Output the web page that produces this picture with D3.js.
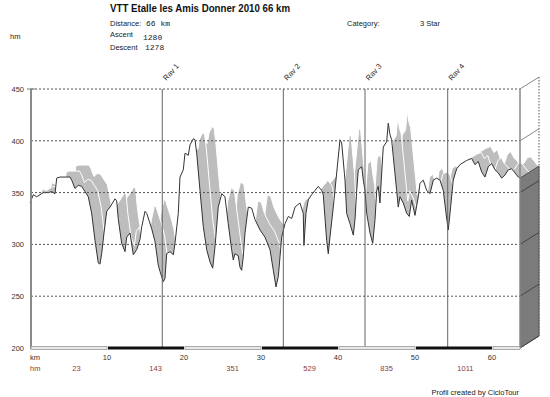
<!DOCTYPE html>
<html>
<head>
<meta charset="utf-8">
<script src="https://cdn.jsdelivr.net/npm/d3@7"></script>
<style>
  body { margin: 0; background: #fff; }
  svg { display: block; }
  text { font-family: "Liberation Sans", Arial, sans-serif; }
  .mono { font-family: "Liberation Mono", "DejaVu Sans Mono", monospace; }
</style>
</head>
<body>
<svg id="chart" width="550" height="397"></svg>
<script>
// profile: distance (km) / altitude (m)
const kmData = [0, 0.43, 0.87, 1.73, 2.38, 2.82, 3.25, 3.47, 3.9, 5.19, 5.42, 5.84, 6.27, 6.71, 7.14, 7.57,
  8.01, 8.44, 8.87, 9.09, 9.31, 9.61, 9.96, 10.39, 11.04, 11.26, 11.47, 11.91, 12.34, 12.56, 12.99, 13.42,
  13.86, 14.29, 14.51, 14.94, 15.16, 15.81, 16.23, 16.66, 16.88, 17.31, 17.53, 17.75, 18.18, 18.61, 18.83,
  19.26, 19.48, 19.91, 20.13, 20.56, 20.78, 21.21, 21.43, 21.65, 22.08, 22.51, 22.95, 23.38, 23.73, 24.03,
  24.45, 24.9, 25.32, 25.75, 26.19, 26.4, 26.62, 27.05, 27.27, 27.49, 27.7, 27.92, 28.35, 28.79, 29.22,
  29.87, 30.52, 31.17, 31.6, 31.95, 32.25, 32.69, 33.12, 33.55, 33.99, 34.42, 35.06, 35.49, 35.58, 35.84,
  36.14, 36.58, 37.01, 37.44, 37.88, 38.09, 38.53, 38.74, 38.96, 39.39, 39.83, 40.26, 40.48, 40.91, 41.13,
  41.56, 41.99, 42.21, 42.43, 42.64, 43.08, 43.29, 43.51, 43.73, 44.16, 44.51, 44.81, 45.03, 45.23, 45.45,
  45.68, 45.88, 46.32, 46.53, 46.75, 46.97, 47.18, 47.62, 47.83, 48.05, 48.48, 48.92, 49.26, 49.57, 50.0,
  50.43, 50.65, 51.08, 51.52, 51.95, 52.38, 52.82, 53.25, 53.68, 54.03, 54.32, 54.55, 54.97, 55.42, 55.84,
  56.71, 57.36, 57.79, 58.22, 58.66, 59.09, 59.52, 59.96, 60.39, 60.82, 61.26, 61.69, 62.12, 62.56, 62.99,
  63.42, 63.64];
const elevData = [340, 348, 346, 350, 350, 351, 349, 364, 365, 365, 362, 354, 357, 356, 351, 346,
  330, 304, 282, 281, 291, 311, 332, 336, 344, 342, 324, 301, 293, 307, 311, 290,
  295, 305, 317, 332, 330, 315, 303, 280, 274, 264, 267, 291, 293, 290, 301,
  330, 365, 372, 388, 386, 396, 402, 401, 388, 352, 317, 295, 283, 277, 298,
  336, 349, 346, 320, 295, 285, 291, 289, 278, 275, 288, 311, 336, 335, 324,
  314, 307, 295, 275, 259, 269, 307, 320, 327, 325, 336, 340, 330, 299, 330,
  343, 348, 352, 356, 352, 348, 304, 291, 307, 336, 369, 401, 398, 362, 330,
  320, 309, 324, 352, 372, 375, 362, 352, 330, 311, 301, 324, 352, 356, 340,
  369, 394, 399, 417, 406, 401, 385, 352, 336, 346, 340, 330, 327, 343, 328,
  346, 359, 362, 352, 349, 362, 364, 362, 352, 330, 314, 330, 362, 373, 377,
  381, 383, 377, 380, 370, 365, 375, 378, 372, 369, 364, 367, 372, 373, 369,
  365, 364];

const yTicks = [200, 250, 300, 350, 400, 450];
const xTicks = [10, 20, 30, 40, 50, 60];
const ravNames = ["Rav 1", "Rav 2", "Rav 3", "Rav 4"];
const ravKm = [17.18, 32.9, 43.51, 54.25];
const hmLabels = ["23", "143", "351", "529", "835", "1011"];

const svg = d3.select("#chart");
const x = d3.scaleLinear().domain([0, 63.64]).range([30, 520]);
const y = d3.scaleLinear().domain([200, 450]).range([348, 89]);
const depth = [19, -12];          // oblique offset of the 3D extrusion
const pts = kmData.map((k, i) => [k, elevData[i]]);
const last = pts[pts.length - 1];
const xR = x.range()[1], yB = y(200);

const line = d3.line().x(d => x(d[0])).y(d => y(d[1]));
const area = d3.area().x(d => x(d[0])).y0(yB).y1(d => y(d[1]));

// header
svg.append("text").attr("x", 110).attr("y", 12).attr("font-size", 11).attr("font-weight", "bold")
  .attr("textLength", 180).attr("lengthAdjust", "spacingAndGlyphs").attr("fill", "#111")
  .text("VTT Etalle les Amis Donner 2010 66 km");
const info = [["Distance:", 26, "66 km", 146, 26], ["Ascent", 37, "1280", 143, 40], ["Descent", 50, "1278", 145, 50]];
info.forEach(r => {
  svg.append("text").attr("x", 110).attr("y", r[1]).attr("font-size", 7.5).attr("fill", "#222").text(r[0]);
  svg.append("text").attr("class", "mono").attr("x", r[3]).attr("y", r[4]).attr("font-size", 8).attr("fill", "#222").text(r[2]);
});
svg.append("text").attr("x", 347).attr("y", 26).attr("font-size", 7.5).attr("fill", "#222").text("Category:");
svg.append("text").attr("x", 420).attr("y", 26).attr("font-size", 7.5).attr("fill", "#222").text("3 Star");
svg.append("text").attr("x", 10).attr("y", 39).attr("font-size", 7.5).attr("fill", "#222").text("hm");

// extruded layers (back to front)
[1, 0.5].forEach(f => {
  const g = svg.append("g").attr("transform", `translate(${depth[0] * f},${depth[1] * f})`);
  g.append("path").datum(pts).attr("d", area).attr("fill", "#bdbdbd");
  g.append("path").datum(pts).attr("d", line).attr("fill", "none").attr("stroke", "#fff").attr("stroke-width", 1);
});

// back right edge (dotted)
svg.append("line").attr("x1", xR + depth[0]).attr("x2", xR + depth[0])
  .attr("y1", y(450) + depth[1]).attr("y2", yB + depth[1])
  .attr("stroke", "#555").attr("stroke-dasharray", "1.5,1.5");

// end face
svg.append("path")
  .attr("d", d3.line()([[xR, y(last[1])], [xR + depth[0], y(last[1]) + depth[1]],
    [xR + depth[0], yB + depth[1]], [xR, yB]]) + "Z")
  .attr("fill", "#7b7b7b").attr("stroke", "#555").attr("stroke-width", 1);

// front face
svg.append("path").datum(pts).attr("d", area).attr("fill", "#fff");
svg.append("path").datum(pts).attr("d", line).attr("fill", "none").attr("stroke", "#333").attr("stroke-width", 1);

// grid
yTicks.filter(t => t > 200).forEach(t => {
  svg.append("line").attr("x1", 31).attr("x2", xR).attr("y1", y(t)).attr("y2", y(t))
    .attr("stroke", "#555").attr("stroke-dasharray", "2,2");
});
yTicks.forEach(t => {
  svg.append("line").attr("x1", xR).attr("x2", xR + depth[0]).attr("y1", y(t)).attr("y2", y(t) + depth[1])
    .attr("stroke", y(t) > y(last[1]) ? "#444" : "#888").attr("stroke-width", 1);
});

// ravito lines
ravKm.forEach((k, i) => {
  svg.append("line").attr("x1", x(k)).attr("x2", x(k)).attr("y1", y(450)).attr("y2", yB)
    .attr("stroke", "#666").attr("stroke-width", 1);
  svg.append("text").attr("transform", `translate(${x(k) + 4},${y(450) - 8}) rotate(-48)`)
    .attr("font-size", 7.5).attr("fill", "#222").text(ravNames[i]);
});

// frame
svg.append("line").attr("x1", xR).attr("x2", xR).attr("y1", y(450)).attr("y2", yB)
  .attr("stroke", "#888").attr("stroke-width", 1.5);
svg.append("line").attr("x1", 31).attr("x2", 31).attr("y1", y(450)).attr("y2", yB + 1)
  .attr("stroke", "#8a8a8a").attr("stroke-width", 2);
svg.append("line").attr("x1", 27).attr("x2", 35).attr("y1", y(450)).attr("y2", y(450))
  .attr("stroke", "#777").attr("stroke-width", 1);

// y labels
yTicks.forEach(t => {
  svg.append("text").attr("x", 24).attr("y", y(t) + 3).attr("text-anchor", "end")
    .attr("font-size", 7.5).attr("fill", "#333").text(t);
});

// km bar
d3.range(0, 7).forEach(i => {
  const a = i * 10, b = Math.min(a + 10, x.domain()[1]);
  svg.append("rect").attr("x", x(a) + 1).attr("y", yB - 1.5).attr("width", x(b) - x(a) - 1).attr("height", 3)
    .attr("fill", i % 2 ? "#111" : "#e8e8e8").attr("stroke", i % 2 ? "none" : "#999").attr("stroke-width", 0.8);
});

// x labels
svg.append("text").attr("x", 30).attr("y", 360).attr("font-size", 7.5).attr("fill", "#333").text("km");
xTicks.forEach(t => {
  svg.append("text").attr("x", x(t)).attr("y", 360).attr("text-anchor", "middle")
    .attr("font-size", 7.5).attr("fill", "#333").text(t);
});
svg.append("text").attr("x", 30).attr("y", 371).attr("font-size", 7.5).attr("fill", "#8b3a3a").text("hm");
hmLabels.forEach((h, i) => {
  svg.append("text").attr("x", x(i * 10 + 5.5)).attr("y", 371)
    .attr("font-size", 7.5).attr("fill", "#8b3a3a").text(h);
});

svg.append("text").attr("x", 519).attr("y", 395).attr("text-anchor", "end")
  .attr("font-size", 7.5).attr("fill", "#222").text("Profil created by CicloTour");
</script>
